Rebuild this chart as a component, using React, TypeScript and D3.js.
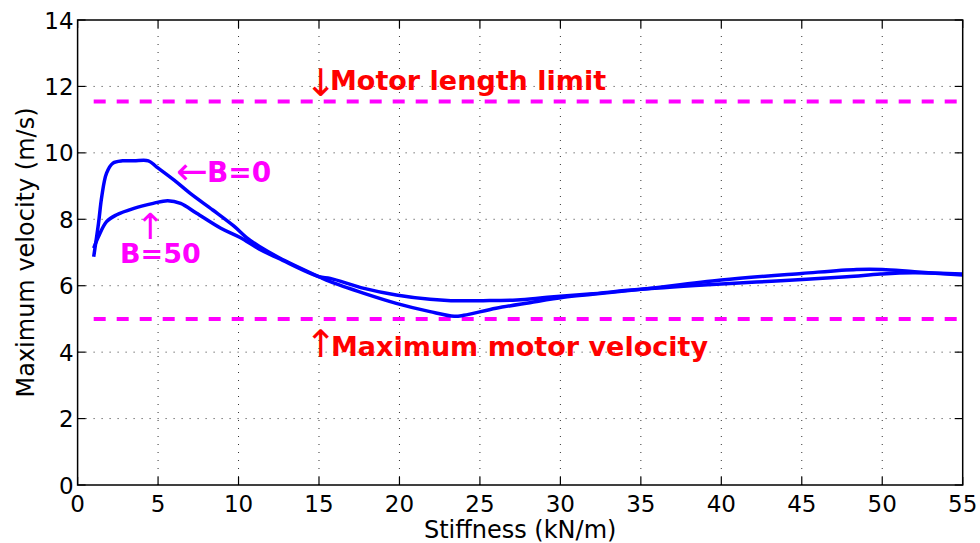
import React from "react";
import * as d3 from "d3";

const xTicks = [0, 5, 10, 15, 20, 25, 30, 35, 40, 45, 50, 55];
const yTicks = [0, 2, 4, 6, 8, 10, 12, 14];

const b0X = [1.0, 1.3, 1.5, 1.8, 2.2, 2.8, 3.5, 4.4, 4.9, 6.0, 7.0, 8.4, 9.7, 10.5, 11.3, 12.5, 15.0, 15.7, 17.8, 19.8, 21.9, 23.4, 24.0, 26.0, 28.1, 30.2, 32.0, 35.0, 40.0, 45.0, 48.4, 50.0, 52.0, 55.0];
const b0Y = [6.87, 7.88, 8.68, 9.39, 9.69, 9.76, 9.76, 9.76, 9.58, 9.18, 8.78, 8.28, 7.8, 7.45, 7.18, 6.85, 6.27, 6.12, 5.77, 5.47, 5.22, 5.08, 5.11, 5.32, 5.49, 5.65, 5.74, 5.89, 6.17, 6.37, 6.49, 6.49, 6.42, 6.32];

const b50X = [1.0, 1.3, 1.8, 2.4, 3.5, 4.7, 5.6, 6.4, 7.4, 8.9, 10.1, 11.3, 12.5, 15.0, 15.7, 17.8, 19.8, 21.9, 23.2, 25.2, 27.3, 29.2, 31.8, 35.0, 40.0, 43.7, 47.8, 49.9, 51.9, 55.0];
const b50Y = [7.13, 7.48, 7.93, 8.13, 8.33, 8.48, 8.56, 8.48, 8.18, 7.73, 7.45, 7.1, 6.82, 6.27, 6.22, 5.92, 5.72, 5.59, 5.55, 5.55, 5.57, 5.65, 5.75, 5.89, 6.05, 6.15, 6.27, 6.35, 6.39, 6.35];

const limitLines = [11.55, 5.0];
const limitX = [1, 55];

const W = 980;
const H = 543;
const L = 77.6, R = 962.7, T = 20, B = 485;

export default function App() {
  const x = d3.scaleLinear().domain([0, 55]).range([L, R]);
  const y = d3.scaleLinear().domain([0, 14]).range([B, T]);
  const line = d3
    .line<[number, number]>()
    .x((d) => x(d[0]))
    .y((d) => y(d[1]))
    .curve(d3.curveCatmullRom.alpha(0.5));
  const s0 = b0X.map((v, i) => [v, b0Y[i]] as [number, number]);
  const s50 = b50X.map((v, i) => [v, b50Y[i]] as [number, number]);
  const font = "'DejaVu Sans', sans-serif";
  const tick = 8;
  return (
    <svg
      width={W}
      height={H}
      style={{ position: "absolute", left: 0, top: 0, background: "#fff" }}
      fontFamily={font}
    >
      <rect x={0} y={0} width={W} height={H} fill="#fff" />
      <defs>
        <clipPath id="plotclip">
          <rect x={L} y={T} width={R - L} height={B - T} />
        </clipPath>
      </defs>
      {/* grid */}
      {xTicks.slice(1, -1).map((t) => (
        <line key={"gx" + t} x1={x(t)} x2={x(t)} y1={T} y2={B} stroke="#000" strokeWidth={1} strokeDasharray="1,7" opacity={0.8} />
      ))}
      {yTicks.slice(1, -1).map((t) => (
        <line key={"gy" + t} x1={L} x2={R} y1={y(t)} y2={y(t)} stroke="#000" strokeWidth={1} strokeDasharray="1,7" opacity={0.8} />
      ))}
      {/* limit lines */}
      {limitLines.map((v) => (
        <line key={"lim" + v} x1={x(limitX[0])} x2={x(limitX[1])} y1={y(v)} y2={y(v)} stroke="#ff00ff" strokeWidth={4} strokeDasharray="12,11" />
      ))}
      {/* curves */}
      <g clipPath="url(#plotclip)">
        <path d={line(s0) || ""} fill="none" stroke="#0000ff" strokeWidth={3.5} strokeLinejoin="round" />
        <path d={line(s50) || ""} fill="none" stroke="#0000ff" strokeWidth={3.5} strokeLinejoin="round" />
      </g>
      {/* ticks */}
      {xTicks.map((t) => (
        <g key={"tx" + t}>
          <line x1={x(t)} x2={x(t)} y1={B} y2={B - tick} stroke="#000" strokeWidth={1.2} />
          <line x1={x(t)} x2={x(t)} y1={T} y2={T + tick} stroke="#000" strokeWidth={1.2} />
          <text x={x(t)} y={B + 27} fontSize={23} textAnchor="middle" fill="#000">{t}</text>
        </g>
      ))}
      {yTicks.map((t) => (
        <g key={"ty" + t}>
          <line x1={L} x2={L + tick} y1={y(t)} y2={y(t)} stroke="#000" strokeWidth={1.2} />
          <line x1={R} x2={R - tick} y1={y(t)} y2={y(t)} stroke="#000" strokeWidth={1.2} />
          <text x={L - 4} y={y(t) + 8.5} fontSize={23} textAnchor="end" fill="#000">{t}</text>
        </g>
      ))}
      {/* frame */}
      <rect x={L} y={T} width={R - L} height={B - T} fill="none" stroke="#000" strokeWidth={1.5} />
      {/* annotations */}
      <text fill="#ff0000">
        <tspan x={321} y={96} fontSize={38} textAnchor="middle">↓</tspan>
        <tspan x={330} y={90} fontSize={27} fontWeight="bold">Motor length limit</tspan>
      </text>
      <text fill="#ff0000">
        <tspan x={321} y={357} fontSize={38} textAnchor="middle">↑</tspan>
        <tspan x={331} y={356} fontSize={27} fontWeight="bold">Maximum motor velocity</tspan>
      </text>
      <text fill="#ff00ff">
        <tspan x={176} y={184} fontSize={38}>←</tspan>
        <tspan x={207} y={182} fontSize={28} fontWeight="bold">B=0</tspan>
      </text>
      <text fill="#ff00ff">
        <tspan x={150} y={239} fontSize={36} textAnchor="middle">↑</tspan>
        <tspan x={120} y={263} fontSize={27} fontWeight="bold">B=50</tspan>
      </text>
      {/* axis labels */}
      <text x={(L + R) / 2} y={538} fontSize={24} textAnchor="middle" fill="#000">Stiffness (kN/m)</text>
      <text transform={`translate(34,${(T + B) / 2}) rotate(-90)`} fontSize={24} textAnchor="middle" fill="#000">Maximum velocity (m/s)</text>
    </svg>
  );
}
